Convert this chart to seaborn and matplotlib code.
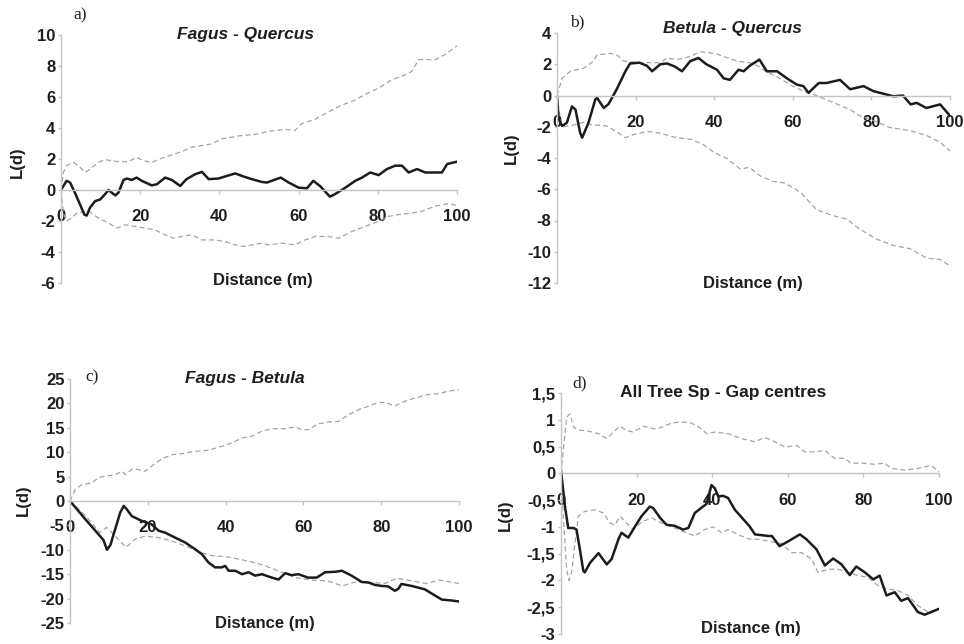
import matplotlib
matplotlib.use("Agg")
import matplotlib.pyplot as plt
import seaborn as sns

sns.set_style("white")
plt.rcParams['font.family'] = ['Liberation Sans', 'DejaVu Sans']
plt.rcParams['font.weight'] = 'bold'
plt.rcParams['axes.unicode_minus'] = False

# ---------------- data ----------------
# Panel a: Fagus - Quercus
a_obs_x = [0, 1.4, 2.3, 3.5, 4.8, 5.9, 6.5, 7.3, 8.6, 9.9, 11.1, 12, 13.7, 14.5, 15.8, 16.6, 17.9, 19.1, 20.4,
           22.9, 24.2, 26.3, 28, 30.1, 31.7, 33.9, 35.6, 37.3, 39.8, 41.4, 44, 46.1, 48.2, 50.7, 52, 55.5, 57.5,
           60, 62.1, 63.7, 65.4, 67.9, 69.1, 71.8, 74.3, 76, 78.1, 80.2, 82.3, 84.4, 86.1, 87.8, 89.9, 92, 95.4,
           96.2, 97.5, 100]
a_obs_y = [0, 0.59, 0.48, -0.17, -0.93, -1.59, -1.65, -1.15, -0.72, -0.61, -0.28, 0, -0.35, -0.17, 0.65, 0.74,
           0.65, 0.80, 0.59, 0.30, 0.37, 0.80, 0.65, 0.26, 0.70, 1.02, 1.17, 0.70, 0.74, 0.87, 1.07, 0.87, 0.70,
           0.52, 0.48, 0.80, 0.48, 0.15, 0.11, 0.59, 0.26, -0.43, -0.28, 0.15, 0.59, 0.80, 1.13, 0.96, 1.35, 1.57,
           1.57, 1.13, 1.35, 1.13, 1.13, 1.13, 1.67, 1.83]
a_up_x = [0, 0.6, 1.4, 3.1, 4.4, 6.1, 7.3, 9.4, 11.1, 12.8, 14.5, 17, 19.1, 20.8, 22.9, 25.3, 28, 30.5, 33, 35.6,
          38.1, 40.6, 43.1, 45.7, 49, 52.4, 56.6, 59.1, 60.8, 64.2, 67.5, 70.9, 74.3, 76.8, 80.2, 83.5, 86.9, 88.6,
          90.3, 94.5, 97, 100]
a_up_y = [0, 1.13, 1.57, 1.78, 1.57, 1.13, 1.35, 1.78, 1.96, 1.89, 1.83, 1.83, 2.11, 1.89, 1.78, 2.04, 2.26, 2.48,
          2.76, 2.87, 2.98, 3.30, 3.41, 3.52, 3.58, 3.78, 3.91, 3.85, 4.28, 4.57, 5.04, 5.48, 5.80, 6.17, 6.57, 7.11,
          7.43, 7.65, 8.41, 8.41, 8.74, 9.3]
a_lo_x = [0, 0.6, 1.4, 2.7, 4, 6.9, 9.4, 12, 14.1, 16.2, 18.7, 21.2, 23.7, 26.3, 28.4, 30.5, 33, 35.6, 38.9, 41.4,
          44, 46.1, 48.2, 50.7, 52.4, 55.8, 59.1, 61.6, 64.2, 67.5, 70.1, 73.5, 76.8, 80.2, 82.7, 85.3, 88.6, 91.2,
          94.5, 97.9, 100]
a_lo_y = [0, -1.48, -2.02, -1.80, -1.5, -1.35, -1.80, -2.13, -2.46, -2.24, -2.35, -2.46, -2.57, -2.89, -3.11, -3.0,
          -2.89, -3.22, -3.22, -3.33, -3.54, -3.65, -3.54, -3.43, -3.54, -3.43, -3.54, -3.22, -3.0, -3.0, -3.11,
          -2.67, -2.35, -2.02, -1.70, -1.59, -1.48, -1.37, -1.04, -0.87, -1.0]

# Panel b: Betula - Quercus
b_obs_x = [0, 0.4, 1.3, 2.5, 3.8, 4.7, 5.9, 6.4, 8, 9.75, 10.2, 11.9, 13.1, 15.2, 17.4, 18.6, 21, 22.9, 24.2, 26.3,
           28, 30, 31.8, 33.9, 36, 38, 40.7, 42.4, 44, 46.2, 47.5, 49, 51.5, 53.4, 56, 58.5, 61, 62.7, 64, 66.6,
           68.6, 72, 74.6, 78, 80.5, 85.6, 88, 90, 91.5, 94, 97.5, 100]
b_obs_y = [0, -1.5, -1.95, -1.75, -0.7, -0.9, -2.4, -2.7, -1.75, -0.25, -0.15, -0.8, -0.55, 0.4, 1.55, 2.05, 2.1,
           1.9, 1.55, 2.0, 2.05, 1.85, 1.55, 2.2, 2.4, 2.0, 1.65, 1.1, 1.0, 1.65, 1.55, 1.9, 2.3, 1.55, 1.55, 1.1,
           0.7, 0.6, 0.17, 0.8, 0.8, 1.0, 0.4, 0.6, 0.28, -0.05, 0, -0.57, -0.47, -0.8, -0.57, -1.3]
b_up_x = [0, 1.3, 3.4, 6.8, 9.3, 10.2, 13.6, 15.2, 17, 21, 26.3, 28, 30.5, 34, 36.4, 40, 42.4, 45.8, 49, 51, 53.4,
          56, 60, 63, 66, 70.3, 74.6, 77, 80.5, 84.7, 89.8, 94, 97.5, 100]
b_up_y = [0, 1.1, 1.55, 1.75, 2.2, 2.6, 2.7, 2.6, 2.2, 2.1, 2.1, 2.4, 2.3, 2.5, 2.8, 2.7, 2.5, 2.2, 2.1, 1.9, 1.5,
          1.2, 0.6, 0.25, 0, -0.45, -0.9, -1.3, -1.6, -2.05, -2.25, -2.55, -3.0, -3.55]
b_lo_x = [0, 1, 1.7, 4, 7, 9, 11, 12.7, 15, 17.4, 19.5, 22.9, 26, 30.5, 34, 37, 40, 43, 46.6, 49, 51.7, 55, 58,
          62, 66, 70.3, 73.7, 77, 81.4, 85.6, 89.8, 94, 97.5, 100]
b_lo_y = [0, -1.8, -2.0, -1.9, -1.7, -1.9, -1.9, -1.95, -2.3, -2.7, -2.5, -2.3, -2.4, -2.7, -2.8, -3.1, -3.65, -4.0,
          -4.7, -4.6, -5.15, -5.5, -5.6, -6.2, -7.3, -7.7, -7.9, -8.55, -9.2, -9.6, -9.8, -10.4, -10.5, -10.9]

# Panel c: Fagus - Betula
c_obs_x = [0, 3.9, 7.4, 8.6, 9.5, 10.4, 11.6, 12.9, 13.8, 14.6, 15.9, 18.5, 21, 22.8, 24.5, 27, 29.6, 32.2, 33.9,
           35.6, 37.3, 39, 39.9, 40.8, 42.5, 44.2, 45.9, 47.6, 49.3, 51.9, 53.6, 55.3, 57, 58.7, 61.2, 63.4, 65.6,
           68.2, 69.9, 72.4, 75, 76.7, 78.4, 80.1, 81.8, 83.5, 84.4, 85.2, 87.8, 91.2, 93.9, 95.6, 98.2, 100]
c_obs_y = [0, -3.7, -6.9, -8.0, -10.0, -9.0, -5.8, -2.4, -1.0, -1.7, -3.1, -4.1, -4.8, -6.1, -6.5, -7.5, -8.5,
           -9.9, -10.9, -12.6, -13.6, -13.6, -13.3, -14.3, -14.3, -15.0, -14.6, -15.3, -15.0, -15.7, -16.1, -14.8,
           -15.2, -15.0, -15.7, -15.7, -14.6, -14.5, -14.3, -15.3, -16.6, -16.7, -17.2, -17.4, -17.5, -18.4, -18.0,
           -17.0, -17.4, -18.1, -19.4, -20.2, -20.4, -20.6]
c_up_x = [0, 1.4, 3.1, 5.6, 7.4, 9.1, 11.6, 13.4, 14.2, 15.9, 17.2, 19.3, 21.6, 23.7, 26.3, 28.8, 32.2, 35.6, 39,
          41.6, 44.2, 46.8, 49.3, 51.9, 55.3, 57.9, 59.6, 61.2, 63.8, 66.4, 69, 71.6, 74.1, 76.7, 79.3, 81, 83.5,
          86, 88.7, 92, 94.7, 97.2, 100]
c_up_y = [0, 2.4, 3.4, 3.7, 4.8, 5.1, 5.4, 6.1, 5.4, 6.5, 6.5, 6.1, 7.5, 8.7, 9.5, 9.7, 10.2, 10.4, 11.2, 11.9,
          12.9, 13.3, 14.3, 14.8, 14.8, 15.2, 14.6, 14.6, 15.8, 16.2, 16.3, 17.7, 18.7, 19.4, 20.2, 20.2, 19.5, 20.4,
          21.1, 21.8, 22.0, 22.5, 22.8]
c_lo_x = [0, 4, 7.7, 9.4, 11.6, 14.4, 16.8, 19.3, 22.8, 26.2, 29.6, 33, 36.4, 39.9, 43.3, 46.8, 50.3, 54.4, 57.9,
          62.1, 66.4, 69.9, 73.3, 77.6, 81, 84, 87.3, 91.6, 95, 100]
c_lo_y = [0, -3, -6.5, -5.4, -7.2, -9.5, -7.8, -7.2, -7.5, -8.2, -9.2, -10.4, -11.2, -11.4, -11.9, -12.5, -13.3,
          -14.6, -15.7, -16.2, -16.4, -17.4, -16.6, -16.7, -16.9, -15.8, -16.3, -16.9, -16.2, -16.9]

# Panel d: All Tree Sp - Gap centres
d_obs_x = [0, 1.06, 1.9, 3.3, 4.1, 5, 5.9, 6.3, 7.7, 9.9, 12.1, 13.4, 15.2, 16, 17.8, 19.6, 21.3, 23.5, 24.4, 26.2,
           27.9, 30.1, 32.3, 33.7, 35.4, 37.2, 38.5, 39.8, 40.7, 41.6, 42.9, 44.2, 46, 47.5, 49.9, 51.3, 54.9, 55.8,
           57.8, 60.1, 63.2, 64.9, 67.6, 69.8, 72, 74.2, 76.4, 78.1, 80.4, 82.6, 84.3, 86.1, 88.3, 90, 91.8, 94.4,
           96.2, 100]
d_obs_y = [0.06, -0.62, -1.02, -1.02, -1.05, -1.42, -1.82, -1.85, -1.67, -1.49, -1.70, -1.60, -1.23, -1.11, -1.20,
           -0.99, -0.80, -0.62, -0.65, -0.83, -0.96, -0.98, -1.05, -1.02, -0.74, -0.64, -0.57, -0.22, -0.28, -0.43,
           -0.42, -0.46, -0.68, -0.80, -0.99, -1.14, -1.17, -1.17, -1.36, -1.27, -1.14, -1.23, -1.42, -1.72, -1.59,
           -1.70, -1.90, -1.74, -1.85, -1.98, -1.91, -2.28, -2.22, -2.38, -2.33, -2.59, -2.64, -2.53]
d_up_x = [0, 0.6, 1.5, 2.4, 3.3, 4.6, 7.2, 9.9, 12.1, 13.8, 15.6, 17.4, 19.1, 21.8, 24.8, 26.6, 29.3, 31.9, 34.5,
          37.2, 38.5, 40.7, 44.2, 47.7, 51.3, 53.9, 55.7, 59.3, 62.4, 64.5, 67.1, 69.8, 72.4, 75, 76.8, 79.5, 83,
          85.6, 87.4, 90.9, 94.4, 97.9, 100]
d_up_y = [0, 0.43, 1.05, 1.11, 0.86, 0.81, 0.79, 0.74, 0.65, 0.77, 0.88, 0.80, 0.77, 0.88, 0.83, 0.86, 0.94, 0.96,
          0.94, 0.83, 0.74, 0.77, 0.74, 0.65, 0.59, 0.67, 0.62, 0.49, 0.52, 0.40, 0.40, 0.43, 0.28, 0.28, 0.19, 0.19,
          0.17, 0.19, 0.09, 0.06, 0.09, 0.15, 0.03]
d_lo_x = [0, 0.6, 1.5, 2.1, 2.8, 3.7, 4.6, 6.3, 9, 11.2, 13, 14.3, 15.6, 17.4, 19.1, 21.3, 24, 26.6, 30.1, 33.2,
          35.4, 38, 40.3, 42.5, 44.2, 47.7, 49.9, 52.2, 55.8, 58.3, 61, 63.6, 66.3, 68, 70.7, 73.3, 76, 78.6, 81.2,
          83.9, 86.5, 89.2, 91.8, 94.4, 97.1, 100]
d_lo_y = [0, -0.80, -1.79, -2.0, -1.85, -1.30, -0.80, -0.71, -0.68, -0.74, -0.93, -0.96, -0.80, -0.93, -1.05, -0.91,
          -0.83, -0.93, -1.02, -1.11, -1.17, -1.05, -1.0, -1.11, -1.05, -1.17, -1.23, -1.23, -1.28, -1.31, -1.48,
          -1.48, -1.6, -1.85, -1.79, -1.79, -1.85, -1.91, -1.94, -2.10, -2.16, -2.19, -2.28, -2.47, -2.59, -2.53]

x_ticks = [0, 20, 40, 60, 80, 100]
a_yticks = [-6, -4, -2, 0, 2, 4, 6, 8, 10]
b_yticks = [-12, -10, -8, -6, -4, -2, 0, 2, 4]
c_yticks = [-25, -20, -15, -10, -5, 0, 5, 10, 15, 20, 25]
d_yticks = [-3, -2.5, -2, -1.5, -1, -0.5, 0, 0.5, 1, 1.5]
d_yticklabels = ["-3", "-2,5", "-2", "-1,5", "-1", "-0,5", "0", "0,5", "1", "1,5"]

titles = ["Fagus - Quercus", "Betula - Quercus", "Fagus - Betula", "All Tree Sp - Gap centres"]
letters = ["a)", "b)", "c)", "d)"]
xlabel = "Distance (m)"
ylabel = "L(d)"

# ---------------- figure ----------------
W, H = 964, 644
fig = plt.figure(figsize=(W / 100, H / 100), dpi=100)


def box(l, r, t, b):
    return [l / W, 1 - b / H, (r - l) / W, (b - t) / H]


axes_px = [(61, 457, 35, 283), (557, 950, 33, 283), (70, 459, 379, 623), (561, 939, 393, 634)]
ylims = [(-6, 10), (-12, 4), (-25, 25), (-3, 1.5)]
yticks = [a_yticks, b_yticks, c_yticks, d_yticks]
ytl = [None, None, None, d_yticklabels]
series = [
    (a_obs_x, a_obs_y, a_up_x, a_up_y, a_lo_x, a_lo_y),
    (b_obs_x, b_obs_y, b_up_x, b_up_y, b_lo_x, b_lo_y),
    (c_obs_x, c_obs_y, c_up_x, c_up_y, c_lo_x, c_lo_y),
    (d_obs_x, d_obs_y, d_up_x, d_up_y, d_lo_x, d_lo_y),
]
title_pos = [(46.6, 1.0), (44.7, 1.016), (44.9, 1.0), (43.0, 1.0)]
title_style = ['italic', 'italic', 'italic', 'normal']
letter_pos = [(0.03, 1.081), (0.033, 1.044), (0.039, 1.008), (0.029, 1.041)]
xlabel_pos = [(0.51, 0.012), (0.499, 0.0), (0.501, -0.004), (0.502, 0.022)]
ylabel_pos = [(-0.111, 0.488), (-0.117, 0.54), (-0.121, 0.504), (-0.148, 0.494)]

spine_c = '#c4c4c4'
dash_c = '#a3a3a3'
txt_c = '#1e1e1e'
tick_fs = 12
lab_fs = 12
title_fs = 12.5

for i in range(4):
    ax = fig.add_axes(box(*axes_px[i]))
    ox, oy, ux, uy, lx, ly = series[i]
    sns.lineplot(x=ux, y=uy, ax=ax, color=dash_c, linewidth=0.9, linestyle=(0, (4, 2.5)))
    sns.lineplot(x=lx, y=ly, ax=ax, color=dash_c, linewidth=0.9, linestyle=(0, (4, 2.5)))
    sns.lineplot(x=ox, y=oy, ax=ax, color='#1c1c1c', linewidth=1.8)

    ax.set_xlim(0, 100)
    ax.set_ylim(*ylims[i])
    ax.set_xticks(x_ticks)
    ax.set_yticks(yticks[i])
    if ytl[i] is not None:
        ax.set_yticklabels(ytl[i])
    for s in ['top', 'right']:
        ax.spines[s].set_visible(False)
    ax.spines['bottom'].set_position(('data', 0))
    for s in ['left', 'bottom']:
        ax.spines[s].set_color(spine_c)
        ax.spines[s].set_linewidth(1.0)
    ax.tick_params(axis='x', direction='out', length=3, width=1, color=spine_c, pad=11,
                   labelsize=tick_fs, labelcolor=txt_c)
    ax.tick_params(axis='y', direction='out', length=2.5, width=1, color=spine_c, pad=1.5,
                   labelsize=tick_fs, labelcolor=txt_c)
    ax.tick_params(bottom=True, left=True)
    for lab in ax.get_xticklabels() + ax.get_yticklabels():
        lab.set_fontweight('bold')
    ax.set_xlabel('')
    ax.set_ylabel('')
    ax.set_facecolor('none')

    tx, ty = title_pos[i]
    ax.text(tx, ty, titles[i], transform=ax.get_xaxis_transform(), ha='center', va='center',
            fontsize=title_fs, fontweight='bold', fontstyle=title_style[i], color=txt_c)
    lx0, ly0 = letter_pos[i]
    ax.text(lx0, ly0, letters[i], transform=ax.transAxes, ha='left', va='center',
            fontsize=12.5, fontweight='normal', family=['Liberation Serif', 'DejaVu Serif'], color=txt_c)
    xx, xy = xlabel_pos[i]
    ax.text(xx, xy, xlabel, transform=ax.transAxes, ha='center', va='center',
            fontsize=lab_fs, fontweight='bold', color=txt_c)
    yx, yy = ylabel_pos[i]
    ax.text(yx, yy, ylabel, transform=ax.transAxes, ha='center', va='center', rotation=90,
            fontsize=lab_fs, fontweight='bold', color=txt_c)

fig.savefig("out.png", dpi=100)
